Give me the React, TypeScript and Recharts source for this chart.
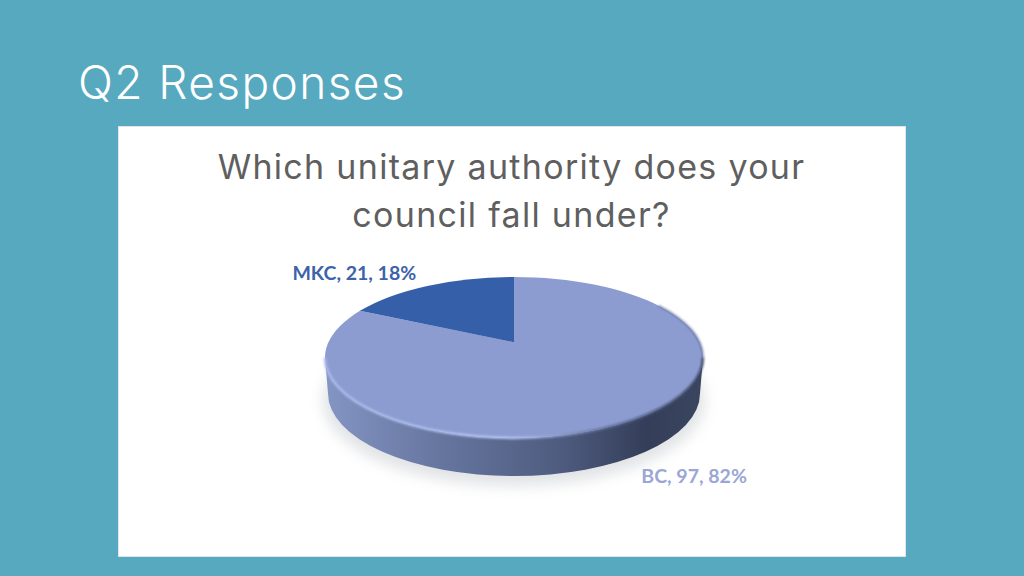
import { PieChart, Pie, Cell } from "recharts";

const categories = ["BC", "MKC"];
const responses = [97, 21];
const sliceColors = ["#8c9cd0", "#365fa9"];
const labelColors = ["#9aa7d6", "#3d63ab"];

const data = categories.map((name, i) => ({ name, value: responses[i] }));
const total = responses.reduce((a, b) => a + b, 0);

// The pie is seen in perspective: flattened, with its centre pushed back
const SQUASH = 0.426;
const TILT = -0.19;
const DEPTH = 36;

function project(angle: number, cx: number, cy: number, r: number) {
  const rad = (angle * Math.PI) / 180;
  const u = Math.cos(rad);
  const v = -Math.sin(rad);
  const d = 1 + TILT * v;
  return {
    x: cx + (r * u * Math.sqrt(1 - TILT * TILT)) / d,
    y: cy + (r * SQUASH * (v + TILT)) / d,
  };
}

function PieSlice(props: any) {
  const { cx, cy, outerRadius: r, startAngle, endAngle, fill, index } = props;
  const ry = r * SQUASH;
  const a = project(startAngle, cx, cy, r);
  const b = project(endAngle, cx, cy, r);
  const c = { x: cx, y: cy + ry * TILT };
  const t0 = Math.atan2((a.y - cy) / ry, (a.x - cx) / r);
  const t1 = Math.atan2((b.y - cy) / ry, (b.x - cx) / r);
  const span = ((t1 - t0) * 180) / Math.PI;
  const large = (span + 360) % 360 > 180 ? 1 : 0;
  const top = `M${c.x},${c.y} L${a.x},${a.y} A${r},${ry} 0 ${large} 1 ${b.x},${b.y} Z`;
  if (index !== 0) return <path d={top} fill={fill} />;

  const L = cx - r;
  const R = cx + r;
  const wall = `M${L},${cy} A${r},${ry} 0 0 0 ${R},${cy} L${R - 3},${cy + DEPTH} A${r - 3},${ry + 2} 0 0 1 ${L + 3},${cy + DEPTH} Z`;
  // upper right part of the bevel, which catches the shade
  const shadeX = cx + r * Math.cos(0.7);
  const shadeY = cy - ry * Math.sin(0.7);
  return (
    <g>
      <defs>
        <linearGradient id="wallGrad" x1="0" y1="0" x2="1" y2="0">
          <stop offset="0%" stopColor="#8595c4" />
          <stop offset="30%" stopColor="#66769f" />
          <stop offset="62%" stopColor="#4f5c80" />
          <stop offset="85%" stopColor="#343e59" />
          <stop offset="100%" stopColor="#3a4560" />
        </linearGradient>
        <linearGradient id="rimGrad" x1="0" y1="0" x2="1" y2="0">
          <stop offset="0%" stopColor="#a9baec" />
          <stop offset="50%" stopColor="#b4c4f2" />
          <stop offset="75%" stopColor="#5d6b95" />
          <stop offset="100%" stopColor="#3f4a68" />
        </linearGradient>
        <filter id="shadowBlur" x="-20%" y="-30%" width="140%" height="160%">
          <feGaussianBlur stdDeviation="7" />
        </filter>
        <filter id="rimBlur" x="-5%" y="-5%" width="110%" height="110%">
          <feGaussianBlur stdDeviation="1.1" />
        </filter>
      </defs>
      <ellipse
        cx={cx}
        cy={cy + DEPTH + 7}
        rx={r + 2}
        ry={ry + 5}
        fill="#b8bcc2"
        opacity={0.42}
        filter="url(#shadowBlur)"
      />
      <path d={wall} fill="url(#wallGrad)" />
      <path d={top} fill={fill} />
      <path
        d={`M${shadeX},${shadeY} A${r},${ry} 0 0 1 ${R},${cy}`}
        fill="none"
        stroke="#67759f"
        strokeWidth={1.6}
        filter="url(#rimBlur)"
      />
      <path
        d={`M${L},${cy} A${r},${ry} 0 0 0 ${R},${cy}`}
        fill="none"
        stroke="url(#rimGrad)"
        strokeWidth={2.5}
        filter="url(#rimBlur)"
      />
    </g>
  );
}

function SliceLabel(props: any) {
  const { cx, cy, outerRadius: r, midAngle, index, name, value } = props;
  const p = project(midAngle, cx, cy, r);
  const left = index === 1;
  const pct = Math.round((value / total) * 100);
  return (
    <text
      x={p.x + (left ? -13 : 10)}
      y={p.y + (left ? -6 : 62)}
      textAnchor={left ? "end" : "start"}
      fontFamily="Lato"
      fontWeight={700}
      fontSize={19.5}
      fill={labelColors[index]}
    >
      {`${name}, ${value}, ${pct}%`}
    </text>
  );
}

export default function App() {
  return (
    <div
      style={{
        position: "fixed",
        left: 0,
        top: 0,
        width: 1024,
        height: 576,
        background: "#57a9bf",
        overflow: "hidden",
      }}
    >
      <div
        style={{
          position: "absolute",
          left: 78,
          top: 52,
          fontFamily: "Inter",
          fontWeight: 300,
          fontSize: 46,
          letterSpacing: 1.4,
          lineHeight: "60px",
          color: "#ffffff",
          whiteSpace: "nowrap",
        }}
      >
        Q2 Responses
      </div>
      <div
        style={{
          position: "absolute",
          left: 119,
          top: 127,
          width: 786,
          height: 429,
          background: "#ffffff",
          boxShadow: "0 0 0 1px #dfe5e8",
        }}
      />
      <div
        style={{
          position: "absolute",
          left: 118,
          width: 787,
          top: 143,
          textAlign: "center",
          fontFamily: "Inter",
          fontWeight: 400,
          fontSize: 34,
          letterSpacing: 1.3,
          lineHeight: "48px",
          color: "#5f5f5f",
        }}
      >
        Which unitary authority does your
        <br />
        council fall under?
      </div>
      <div style={{ position: "absolute", left: 0, top: 0 }}>
        <PieChart width={1024} height={576} margin={{ top: 0, right: 0, bottom: 0, left: 0 }}>
          <Pie
            data={data}
            dataKey="value"
            nameKey="name"
            cx={514}
            cy={357.5}
            innerRadius={0}
            outerRadius={189}
            startAngle={90}
            endAngle={-270}
            stroke="none"
            isAnimationActive={false}
            shape={PieSlice}
            label={SliceLabel}
            labelLine={false}
          >
            {data.map((d, i) => (
              <Cell key={d.name} fill={sliceColors[i]} />
            ))}
          </Pie>
        </PieChart>
      </div>
    </div>
  );
}
